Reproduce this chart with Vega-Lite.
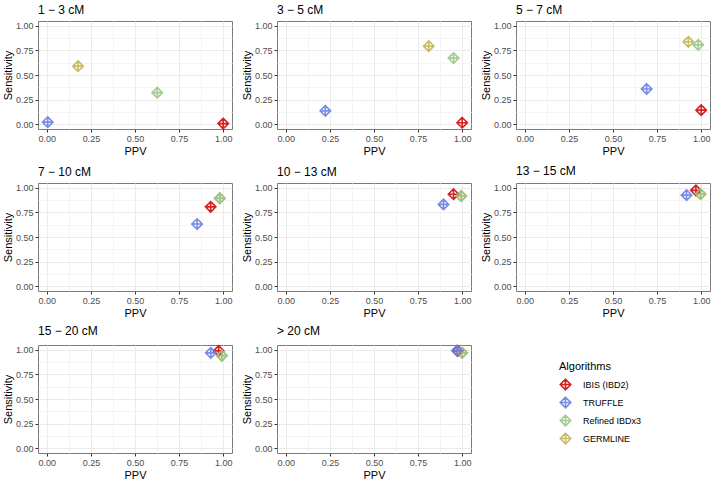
{
  "$schema": "https://vega.github.io/schema/vega-lite/v6.json",
  "padding": {"left": 1, "top": 3, "right": 0, "bottom": 0},
  "background": "white",
  "data": {"values": [
    {"bin": "1 − 3 cM", "alg": "IBIS (IBD2)", "ppv": 1.0, "sens": 0.005},
    {"bin": "1 − 3 cM", "alg": "TRUFFLE", "ppv": 0.005, "sens": 0.02},
    {"bin": "1 − 3 cM", "alg": "Refined IBDx3", "ppv": 0.626, "sens": 0.32},
    {"bin": "1 − 3 cM", "alg": "GERMLINE", "ppv": 0.177, "sens": 0.59},
    {"bin": "3 − 5 cM", "alg": "IBIS (IBD2)", "ppv": 1.0, "sens": 0.014},
    {"bin": "3 − 5 cM", "alg": "TRUFFLE", "ppv": 0.224, "sens": 0.135},
    {"bin": "3 − 5 cM", "alg": "Refined IBDx3", "ppv": 0.951, "sens": 0.672},
    {"bin": "3 − 5 cM", "alg": "GERMLINE", "ppv": 0.81, "sens": 0.794},
    {"bin": "5 − 7 cM", "alg": "IBIS (IBD2)", "ppv": 1.0, "sens": 0.142},
    {"bin": "5 − 7 cM", "alg": "TRUFFLE", "ppv": 0.691, "sens": 0.358},
    {"bin": "5 − 7 cM", "alg": "Refined IBDx3", "ppv": 0.983, "sens": 0.807},
    {"bin": "5 − 7 cM", "alg": "GERMLINE", "ppv": 0.927, "sens": 0.838},
    {"bin": "7 − 10 cM", "alg": "IBIS (IBD2)", "ppv": 0.929, "sens": 0.807},
    {"bin": "7 − 10 cM", "alg": "TRUFFLE", "ppv": 0.852, "sens": 0.632},
    {"bin": "7 − 10 cM", "alg": "Refined IBDx3", "ppv": 0.982, "sens": 0.893},
    {"bin": "7 − 10 cM", "alg": "GERMLINE", "ppv": 0.98, "sens": 0.895},
    {"bin": "10 − 13 cM", "alg": "IBIS (IBD2)", "ppv": 0.951, "sens": 0.936},
    {"bin": "10 − 13 cM", "alg": "TRUFFLE", "ppv": 0.894, "sens": 0.832},
    {"bin": "10 − 13 cM", "alg": "Refined IBDx3", "ppv": 0.995, "sens": 0.918},
    {"bin": "10 − 13 cM", "alg": "GERMLINE", "ppv": 0.994, "sens": 0.916},
    {"bin": "13 − 15 cM", "alg": "IBIS (IBD2)", "ppv": 0.97, "sens": 0.975},
    {"bin": "13 − 15 cM", "alg": "TRUFFLE", "ppv": 0.917, "sens": 0.926},
    {"bin": "13 − 15 cM", "alg": "Refined IBDx3", "ppv": 0.997, "sens": 0.938},
    {"bin": "13 − 15 cM", "alg": "GERMLINE", "ppv": 0.996, "sens": 0.936},
    {"bin": "15 − 20 cM", "alg": "IBIS (IBD2)", "ppv": 0.974, "sens": 0.99},
    {"bin": "15 − 20 cM", "alg": "TRUFFLE", "ppv": 0.93, "sens": 0.97},
    {"bin": "15 − 20 cM", "alg": "Refined IBDx3", "ppv": 0.993, "sens": 0.942},
    {"bin": "15 − 20 cM", "alg": "GERMLINE", "ppv": 0.992, "sens": 0.94},
    {"bin": "> 20 cM", "alg": "IBIS (IBD2)", "ppv": 0.975, "sens": 0.99},
    {"bin": "> 20 cM", "alg": "TRUFFLE", "ppv": 0.97, "sens": 0.993},
    {"bin": "> 20 cM", "alg": "Refined IBDx3", "ppv": 1.0, "sens": 0.972},
    {"bin": "> 20 cM", "alg": "GERMLINE", "ppv": 1.0, "sens": 0.97}
  ]},
  "facet": {
    "field": "bin",
    "type": "nominal",
    "sort": ["1 − 3 cM", "3 − 5 cM", "5 − 7 cM", "7 − 10 cM", "10 − 13 cM", "13 − 15 cM", "15 − 20 cM", "> 20 cM"],
    "header": {
      "title": null,
      "labelOrient": "top",
      "labelAnchor": "start",
      "labelAlign": "left",
      "labelFont": "Liberation Sans",
      "labelFontSize": 12,
      "labelColor": "black",
      "labelPadding": 4
    }
  },
  "columns": 3,
  "spacing": {"column": 7, "row": 5},
  "resolve": {"axis": {"x": "independent", "y": "independent"}},
  "spec": {
    "width": 194,
    "height": 108,
    "mark": {
      "type": "point",
      "shape": "M0,-1L1,0L0,1L-1,0Z M0,-1L0,1 M-1,0L1,0",
      "filled": false,
      "size": 110,
      "strokeWidth": 1.6,
      "opacity": 0.9
    },
    "encoding": {
      "x": {
        "field": "ppv", "type": "quantitative", "title": "PPV",
        "scale": {"domain": [-0.05, 1.05], "nice": false, "zero": false},
        "axis": {
          "values": [0, 0.125, 0.25, 0.375, 0.5, 0.625, 0.75, 0.875, 1],
          "labelExpr": "(datum.value*4) % 1 == 0 ? format(datum.value, '.2f') : ''",
          "gridColor": {"condition": {"test": "(datum.value*4) % 1 != 0", "value": "#F4F4F4"}, "value": "#EBEBEB"},
          "tickOpacity": {"condition": {"test": "(datum.value*4) % 1 != 0", "value": 0}, "value": 1}
        }
      },
      "y": {
        "field": "sens", "type": "quantitative", "title": "Sensitivity",
        "scale": {"domain": [-0.05, 1.05], "nice": false, "zero": false},
        "axis": {
          "values": [0, 0.125, 0.25, 0.375, 0.5, 0.625, 0.75, 0.875, 1],
          "labelExpr": "(datum.value*4) % 1 == 0 ? format(datum.value, '.2f') : ''",
          "gridColor": {"condition": {"test": "(datum.value*4) % 1 != 0", "value": "#F4F4F4"}, "value": "#EBEBEB"},
          "tickOpacity": {"condition": {"test": "(datum.value*4) % 1 != 0", "value": 0}, "value": 1}
        }
      },
      "color": {
        "field": "alg", "type": "nominal", "title": "Algorithms",
        "scale": {
          "domain": ["IBIS (IBD2)", "TRUFFLE", "Refined IBDx3", "GERMLINE"],
          "range": ["#D00A0A", "#6A80E6", "#98C78A", "#C4B654"]
        },
        "legend": {
          "orient": "none",
          "legendX": 521,
          "legendY": 340,
          "symbolType": "M0,-1L1,0L0,1L-1,0Z M0,-1L0,1 M-1,0L1,0",
          "symbolSize": 110,
          "symbolStrokeWidth": 1.6,
          "symbolFillColor": "transparent",
          "rowPadding": 1,
          "titleFont": "Liberation Sans",
          "titleFontSize": 11,
          "titleFontWeight": "normal",
          "titleColor": "black",
          "titlePadding": 6,
          "labelFont": "Liberation Sans",
          "labelFontSize": 9,
          "labelColor": "black",
          "labelOffset": 11
        }
      },
      "order": {"field": "alg", "sort": "ascending"}
    }
  },
  "config": {
    "view": {"stroke": "#7A7A7A", "strokeWidth": 1},
    "axis": {
      "domain": false,
      "grid": true,
      "gridWidth": 1,
      "tickColor": "#333333",
      "tickSize": 3,
      "labelFont": "Liberation Sans",
      "labelFontSize": 9,
      "labelColor": "#4D4D4D",
      "labelPadding": 2,
      "titleFont": "Liberation Sans",
      "titleFontSize": 11,
      "titleFontWeight": "normal",
      "titleColor": "black",
      "titlePadding": 2,
      "labelOverlap": false
    }
  }
}
